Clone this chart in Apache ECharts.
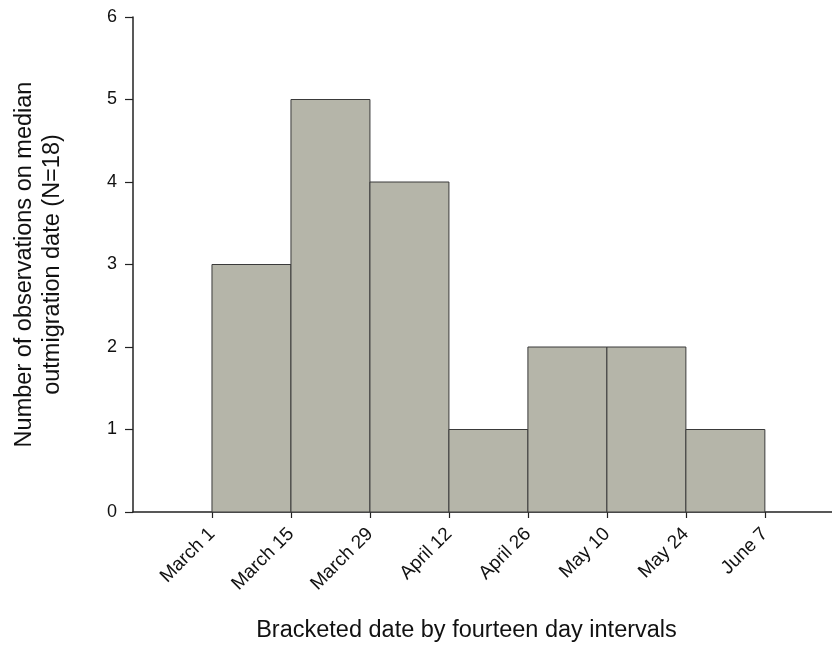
<!DOCTYPE html>
<html>
<head>
<meta charset="utf-8">
<script src="https://cdn.jsdelivr.net/npm/echarts@6/dist/echarts.min.js"></script>
<style>html,body{margin:0;padding:0;background:#fff}#c{width:832px;height:648px}</style>
</head>
<body>
<div id="c"></div>
<script>
const tickLabels = ['March 1','March 15','March 29','April 12','April 26','May 10','May 24','June 7'];
const binStarts = [0,1,2,3,4,5,6];
const counts = [3,5,4,1,2,2,1];
const yTicks = [0,1,2,3,4,5,6];

const chart = echarts.init(document.getElementById('c'), null, {renderer:'canvas'});
const font = 'Liberation Sans, Arial, sans-serif';
const tickIdx = tickLabels.map((_, i) => i);
chart.setOption({
  animation:false,
  grid:{left:133,right:0,top:17,bottom:134,containLabel:false},
  xAxis:{
    type:'value', min:-1, max:7.85, interval:1,
    splitLine:{show:false},
    axisLine:{lineStyle:{color:'#222',width:1.5}},
    axisTick:{show:true,length:6,lineStyle:{color:'#222',width:1.2},customValues:tickIdx},
    axisLabel:{rotate:45,fontSize:19,fontFamily:font,color:'#111',margin:19,
      customValues:tickIdx,
      formatter:v=>{const i=Math.round(v);return (Math.abs(v-i)<1e-6&&tickLabels[i])?tickLabels[i]:'';}},
    name:'Bracketed date by fourteen day intervals',
    nameLocation:'middle', nameGap:107,
    nameTextStyle:{fontSize:23.5,fontFamily:font,color:'#111',padding:[0,32,0,0]}
  },
  yAxis:{
    type:'value', min:0, max:6, interval:1,
    splitLine:{show:false},
    axisLine:{show:true,onZero:false,lineStyle:{color:'#222',width:1.5}},
    axisTick:{show:true,length:8,lineStyle:{color:'#222',width:1.2}},
    axisLabel:{fontSize:18,fontFamily:font,color:'#111',margin:16,
      formatter:v=>yTicks.includes(v)?String(v):''},
    name:'Number of observations on median\noutmigration date (N=18)',
    nameLocation:'middle', nameGap:66, nameRotate:90,
    nameTextStyle:{fontSize:23.5,fontFamily:font,color:'#111',lineHeight:28,align:'center'}
  },
  series:[{
    type:'custom',
    data:binStarts.map((s,i)=>[s,counts[i]]),
    renderItem:(params,api)=>{
      const s=api.value(0), v=api.value(1);
      const p0=api.coord([s,0]);
      const p1=api.coord([s+1,v]);
      return {type:'rect',shape:{x:p0[0],y:p1[1],width:p1[0]-p0[0],height:p0[1]-p1[1]},
        style:{fill:'#b5b5a9',stroke:'#3a3a3a',lineWidth:1}};
    },
    encode:{x:0,y:1}
  }]
});
</script>
</body>
</html>
